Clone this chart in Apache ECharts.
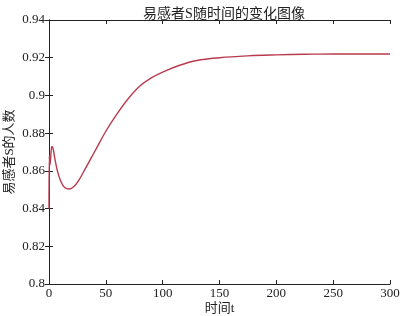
<!DOCTYPE html>
<html>
<head>
<meta charset="utf-8">
<script src="https://cdn.jsdelivr.net/npm/echarts@6/dist/echarts.min.js"></script>
<style>
  html, body { margin: 0; padding: 0; background: #fff; }
  #main { width: 401px; height: 316px; }
</style>
</head>
<body>
<div id="main"></div>
<script>
  // 时间 t 与易感者 S 的人数
  var tVals = [0, 0.3, 0.8, 1.5, 2.5, 3.5, 5, 7, 10, 14, 18, 22, 26, 30, 35, 40, 50, 60, 70, 80, 90, 100, 115, 130, 150, 175, 200, 225, 250, 275, 300];
  var sVals = [0.840, 0.868, 0.863, 0.867, 0.873, 0.872, 0.867, 0.861, 0.855, 0.851, 0.8504, 0.8517, 0.8548, 0.859, 0.8645, 0.870, 0.881, 0.8903, 0.8985, 0.905, 0.9093, 0.9124, 0.916, 0.9185, 0.920, 0.921, 0.9215, 0.9218, 0.922, 0.922, 0.922];
  var xTicks = { min: 0, max: 300, interval: 50 };
  var yTicks = { min: 0.8, max: 0.94, interval: 0.02 };

  var font = '"Liberation Serif", "Noto Sans CJK SC", serif';
  var pts = [];
  for (var i = 0; i < tVals.length; i++) {
    pts.push([tVals[i], sVals[i]]);
  }

  var chart = echarts.init(document.getElementById('main'));
  var axisLine = { show: true, lineStyle: { color: '#222', width: 1 } };
  var tick = { inside: true, length: 4, lineStyle: { color: '#222' } };
  chart.setOption({
    animation: false,
    title: {
      text: '易感者S随时间的变化图像',
      left: 219,
      textAlign: 'center',
      top: 2,
      textStyle: { fontFamily: font, fontSize: 14, fontWeight: 'normal', color: '#222' }
    },
    grid: { left: 49, right: 11, top: 20, bottom: 32, containLabel: false, outerBoundsMode: 'none' },
    xAxis: [{
      type: 'value',
      min: xTicks.min, max: xTicks.max, interval: xTicks.interval,
      name: '时间t',
      nameLocation: 'middle',
      nameGap: 18,
      nameMoveOverlap: false,
      nameTextStyle: { fontFamily: font, fontSize: 13, color: '#222' },
      axisLine: axisLine,
      axisTick: tick,
      axisLabel: { fontFamily: font, fontSize: 13, color: '#222', margin: 3 },
      splitLine: { show: false }
    }, {
      type: 'value',
      position: 'top',
      min: xTicks.min, max: xTicks.max, interval: xTicks.interval,
      axisLine: axisLine,
      axisTick: tick,
      axisLabel: { show: false },
      splitLine: { show: false }
    }],
    yAxis: [{
      type: 'value',
      min: yTicks.min, max: yTicks.max, interval: yTicks.interval,
      name: '易感者S的人数',
      nameLocation: 'middle',
      nameGap: 33,
      nameMoveOverlap: false,
      nameTextStyle: { fontFamily: font, fontSize: 13, color: '#222' },
      axisLine: axisLine,
      axisTick: tick,
      axisLabel: { fontFamily: font, fontSize: 13, color: '#222', margin: 4 },
      splitLine: { show: false }
    }, {
      type: 'value',
      position: 'right',
      min: yTicks.min, max: yTicks.max, interval: yTicks.interval,
      axisLine: axisLine,
      axisTick: tick,
      axisLabel: { show: false },
      splitLine: { show: false }
    }],
    series: [{
      name: 'S',
      type: 'line',
      data: pts,
      showSymbol: false,
      smooth: 0.4,
      lineStyle: { color: '#b83a4e', width: 1.4 }
    }]
  });
</script>
</body>
</html>
